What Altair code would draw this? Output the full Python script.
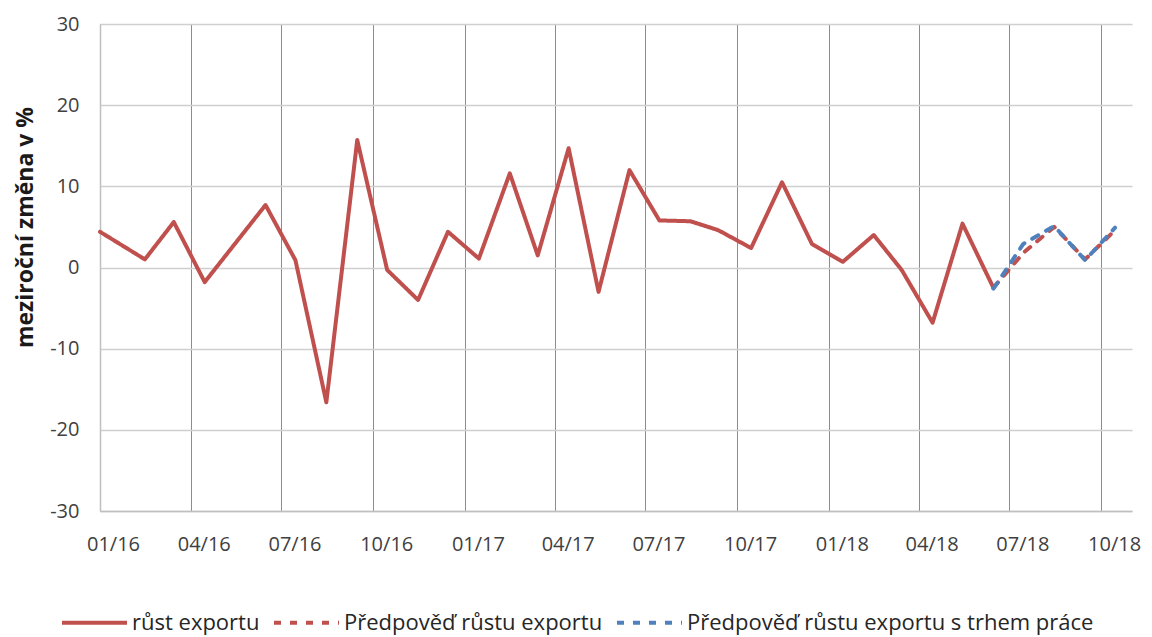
import altair as alt
import pandas as pd

# ---- data ----
actual_dates = ["2016-01-01", "2016-02-15", "2016-03-15", "2016-04-15", "2016-06-15",
                "2016-07-15", "2016-08-15", "2016-09-15", "2016-10-15", "2016-11-15",
                "2016-12-15", "2017-01-15", "2017-02-15", "2017-03-15", "2017-04-15",
                "2017-05-15", "2017-06-15", "2017-07-15", "2017-08-15", "2017-09-12",
                "2017-10-15", "2017-11-15", "2017-12-15", "2018-01-15", "2018-02-15",
                "2018-03-15", "2018-04-15", "2018-05-15", "2018-06-15"]
actual_values = [4.4, 1.0, 5.6, -1.8, 7.7,
                 0.9, -16.6, 15.7, -0.3, -4.0,
                 4.4, 1.1, 11.6, 1.5, 14.7,
                 -3.0, 12.0, 5.8, 5.7, 4.6,
                 2.4, 10.5, 2.9, 0.7, 4.0,
                 -0.3, -6.8, 5.4, -2.5]

forecast_dates = ["2018-06-15", "2018-07-15", "2018-08-15", "2018-09-15", "2018-10-15"]
forecast_values = [-2.5, 1.8, 5.0, 1.0, 4.6]
forecast_lm_values = [-2.6, 2.9, 5.1, 0.9, 4.9]

series_names = ["růst exportu", "Předpověď růstu exportu",
                "Předpověď růstu exportu s trhem práce"]
series_colors = ["#C0504D", "#C0504D", "#4F81BD"]
series_dashes = [[1, 0], [7, 9], [7, 9]]

tick_months = [(2016, 1), (2016, 4), (2016, 7), (2016, 10), (2017, 1), (2017, 4),
               (2017, 7), (2017, 10), (2018, 1), (2018, 4), (2018, 7), (2018, 10)]
y_ticks = [-30, -20, -10, 0, 10, 20, 30]
y_title = "meziroční změna v %"

# ---- build table ----
rows = []
for d, v in zip(actual_dates, actual_values):
    rows.append({"date": d, "value": v, "series": series_names[0]})
for d, v in zip(forecast_dates, forecast_values):
    rows.append({"date": d, "value": v, "series": series_names[1]})
for d, v in zip(forecast_dates, forecast_lm_values):
    rows.append({"date": d, "value": v, "series": series_names[2]})
df = pd.DataFrame(rows)
df["date"] = pd.to_datetime(df["date"])

FONT = "Open Sans"

x_enc = alt.X(
    "date:T",
    scale=alt.Scale(domain=[alt.DateTime(year=2016, month=1, date=1),
                            alt.DateTime(year=2018, month=11, date=1)]),
    axis=alt.Axis(
        values=[alt.DateTime(year=y, month=m, date=1) for y, m in tick_months],
        format="%m/%y", title=None, grid=True, gridColor="#8c8c8c", gridWidth=1,
        domainColor="#bfbfbf", domainWidth=1.5, ticks=False, labelPadding=23,
        labelOffset=13, labelFont=FONT, labelFontSize=20, labelColor="#404040",
        labelFlush=False, labelOverlap=False,
    ),
)
y_enc = alt.Y(
    "value:Q",
    scale=alt.Scale(domain=[-30, 30], nice=False),
    axis=alt.Axis(
        values=y_ticks, title=y_title, grid=True, gridColor="#cfcfcf", gridWidth=1.5,
        domainColor="#bfbfbf", domainWidth=1.5, ticks=False, labelPadding=21,
        labelExpr="datum.value + ''",
        labelFont=FONT, labelFontSize=20, labelColor="#404040",
        titleFont=FONT, titleFontSize=23, titleFontWeight="bold", titleColor="#1a1a1a",
        titleX=-75, titleY=203, titleAngle=270, titleAlign="center", titleBaseline="middle",
    ),
)
color_enc = alt.Color(
    "series:N",
    scale=alt.Scale(domain=series_names, range=series_colors),
    legend=alt.Legend(
        title=None, orient="none", direction="horizontal", legendX=-40, legendY=564,
        symbolType="stroke", symbolSize=4225, symbolStrokeWidth=4,
        labelFont=FONT, labelFontSize=22, labelColor="#262626", labelOffset=3,
        labelLimit=0, columnPadding=6,
    ),
)
dash_enc = alt.StrokeDash(
    "series:N",
    scale=alt.Scale(domain=series_names, range=series_dashes),
    legend=None,
)

layers = []
for name in series_names:
    layers.append(
        alt.Chart(df)
        .transform_filter(alt.datum.series == name)
        .mark_line(strokeWidth=4, strokeCap="round", strokeJoin="round")
        .encode(x=x_enc, y=y_enc, color=color_enc, strokeDash=dash_enc)
    )

chart = (
    alt.layer(*layers)
    .resolve_scale(color="shared", strokeDash="shared")
    .properties(
        width=1032, height=487,
        autosize=alt.AutoSizeParams(type="none"),
        padding={"left": 92, "top": 16, "right": 12, "bottom": 125},
        background="white",
    )
    .configure_view(stroke=None)
)

chart.save("out.html", embed_options={"renderer": "svg", "actions": False})
